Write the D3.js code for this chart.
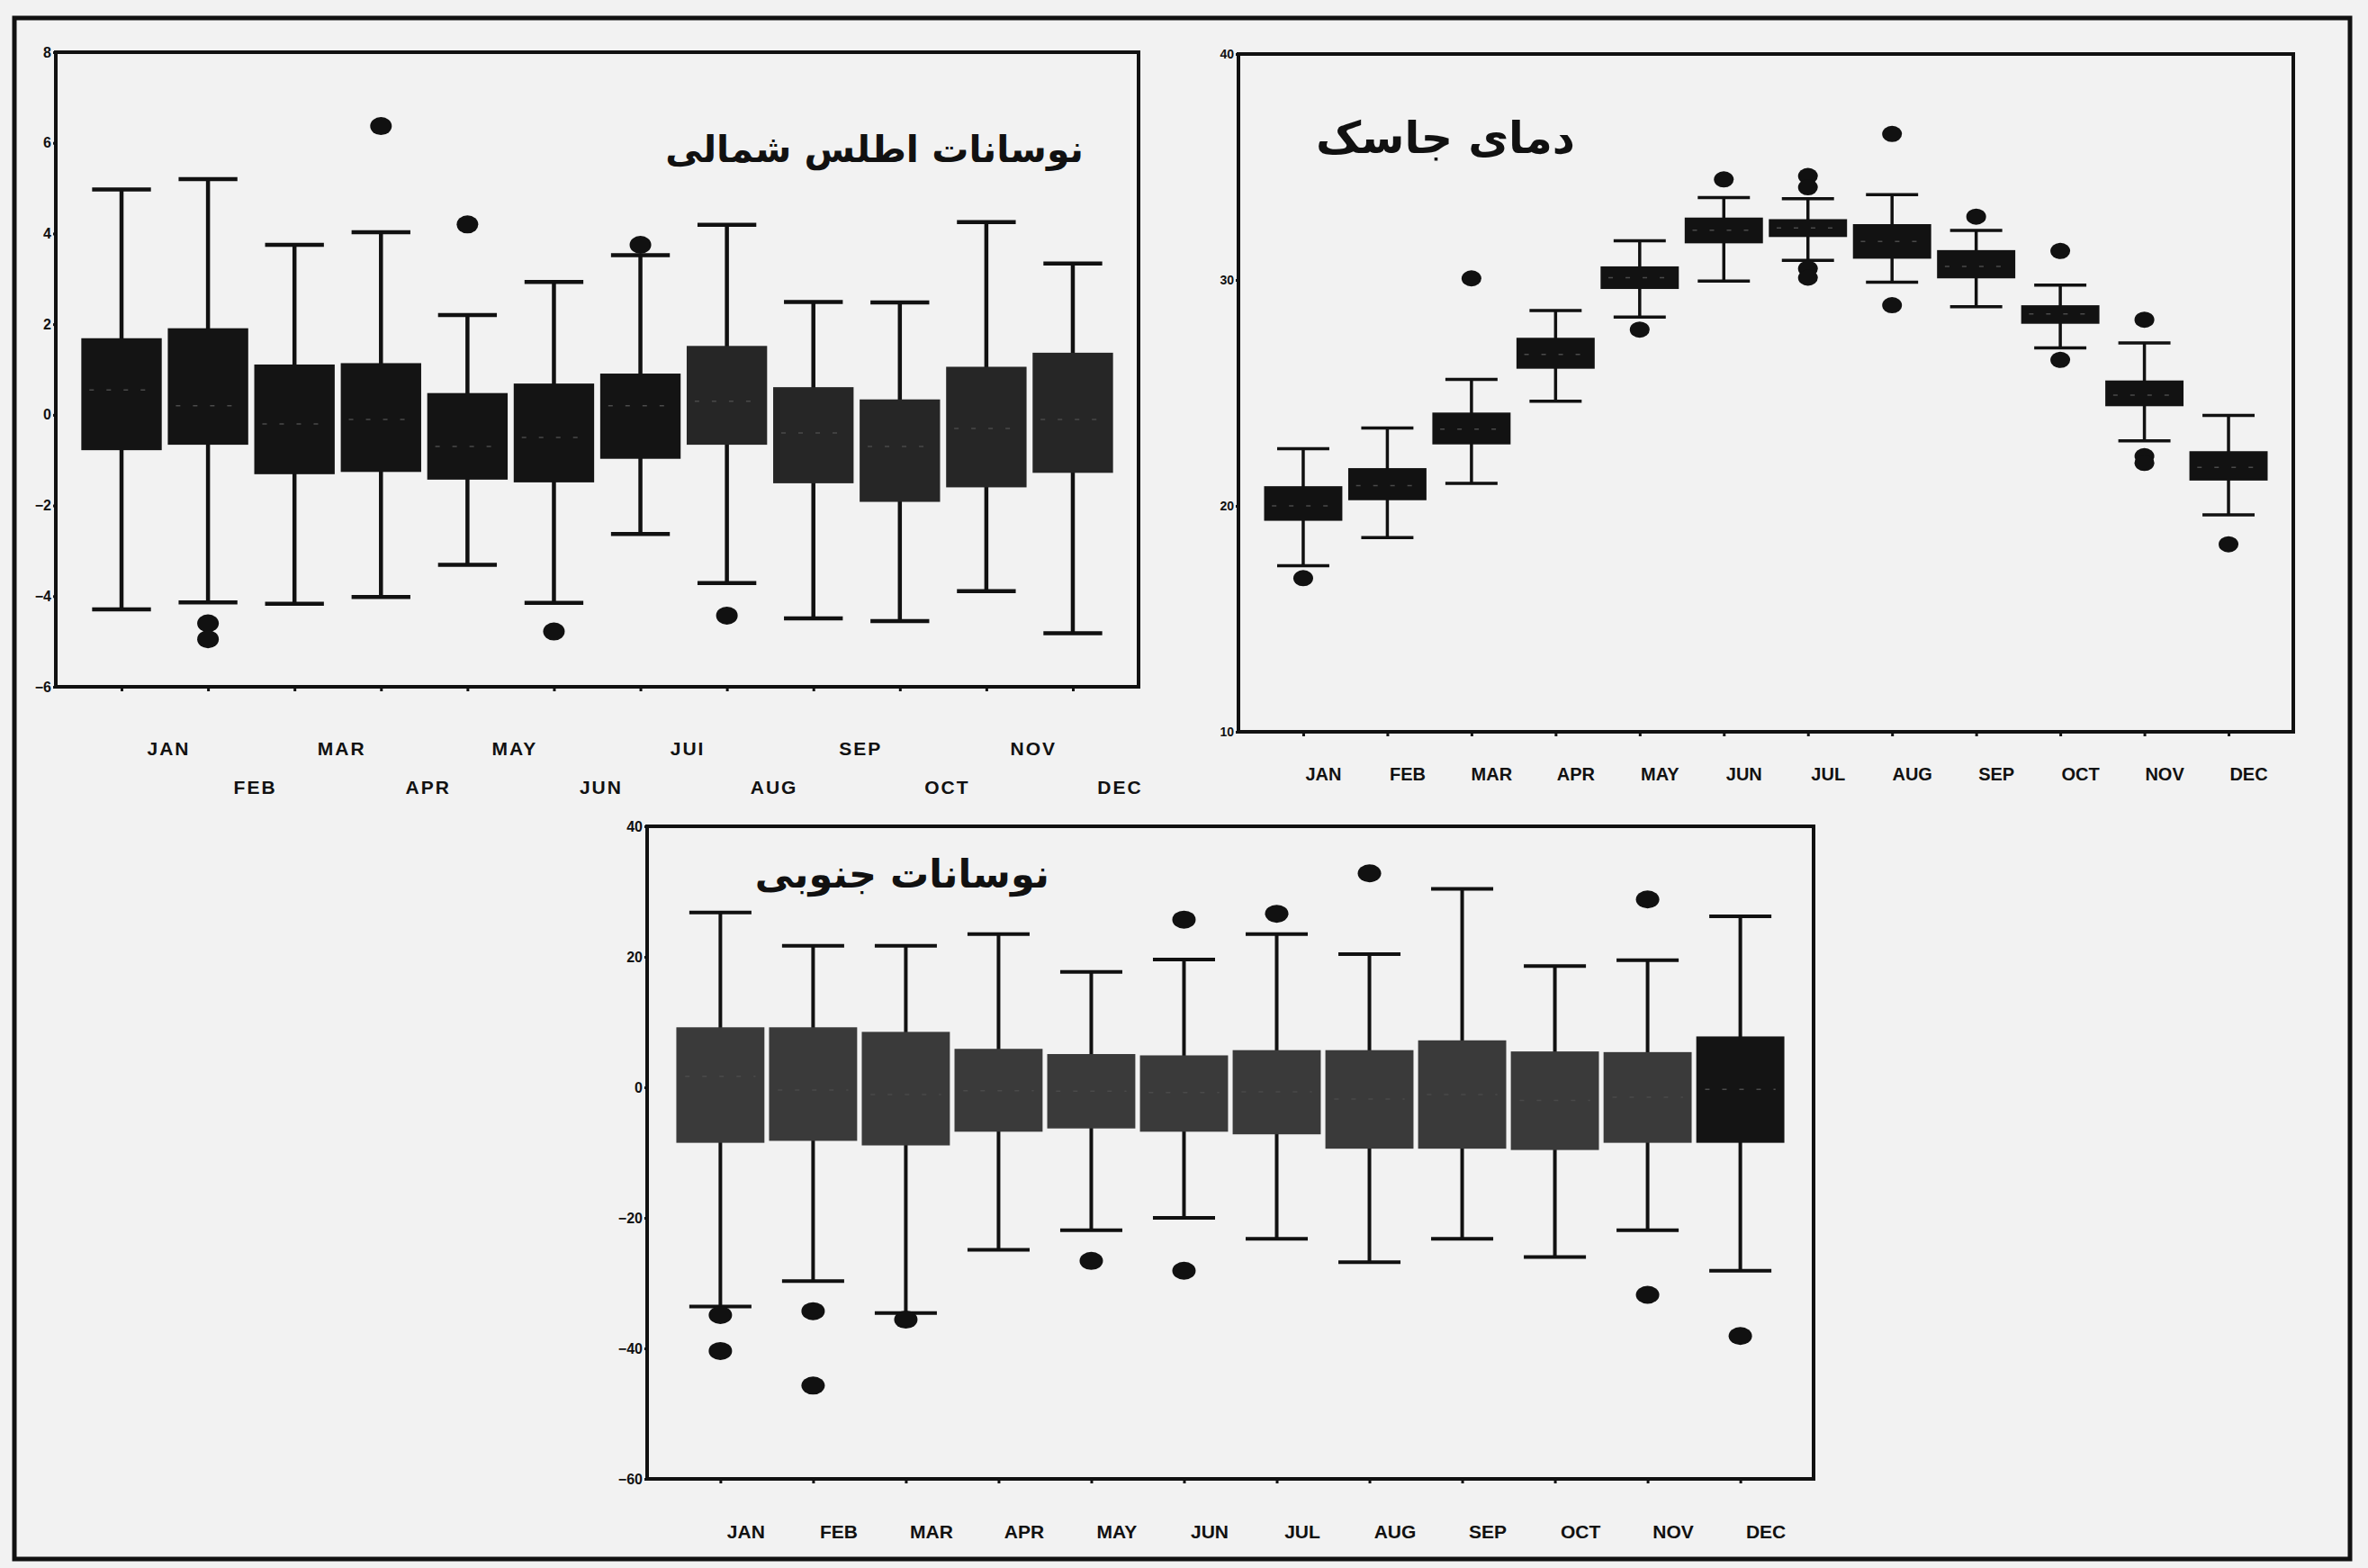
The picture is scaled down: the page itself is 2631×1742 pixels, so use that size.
<!DOCTYPE html>
<html>
<head>
<meta charset="utf-8">
<script src="https://cdn.jsdelivr.net/npm/d3@7/dist/d3.min.js"></script>
<style>
    body { margin: 0; background: #f2f2f2; }
    .axis path { display: none; }
    .axis line { stroke: #111; stroke-width: 3; }
    .axis text { font-family: "Liberation Sans", Arial, sans-serif; font-weight: bold; fill: #111; }
    .title { font-family: "DejaVu Sans", sans-serif; font-weight: bold; fill: #111; }
</style>
</head>
<body>
<div id="figure"></div>
<script>

// months on the x axis (panel 1 has the typo "JUI" in the print)
var months = ["JAN", "FEB", "MAR", "APR", "MAY", "JUN", "JUL", "AUG", "SEP", "OCT", "NOV", "DEC"];
var naoLabels = ["JAN", "FEB", "MAR", "APR", "MAY", "JUN", "JUI", "AUG", "SEP", "OCT", "NOV", "DEC"];

// North Atlantic oscillation
var naoTicks = [-6, -4, -2, 0, 2, 4, 6, 8];
var naoLow = [-4.29, -4.14, -4.17, -4.02, -3.31, -4.15, -2.63, -3.71, -4.49, -4.55, -3.89, -4.82];
var naoQ1 = [-0.78, -0.66, -1.31, -1.26, -1.43, -1.49, -0.97, -0.66, -1.51, -1.92, -1.6, -1.28];
var naoMed = [0.55, 0.2, -0.2, -0.1, -0.7, -0.5, 0.2, 0.3, -0.4, -0.7, -0.3, -0.1];
var naoQ3 = [1.69, 1.91, 1.11, 1.14, 0.48, 0.69, 0.91, 1.52, 0.61, 0.34, 1.06, 1.37];
var naoHigh = [4.97, 5.2, 3.75, 4.03, 2.2, 2.93, 3.52, 4.19, 2.49, 2.48, 4.25, 3.34];
var naoOutliers = [[], [-4.6, -4.95], [], [6.37], [4.2], [-4.78], [3.75], [-4.43], [], [], [], []];

// Jask temperature
var jaskTicks = [10, 20, 30, 40];
var jaskLow = [17.35, 18.6, 21.0, 24.63, 28.36, 29.95, 30.87, 29.9, 28.81, 26.99, 22.88, 19.6];
var jaskQ1 = [19.34, 20.25, 22.72, 26.07, 29.6, 31.62, 31.9, 30.94, 30.07, 28.06, 24.41, 21.12];
var jaskMed = [20.0, 20.9, 23.4, 26.7, 30.1, 32.2, 32.3, 31.7, 30.6, 28.5, 24.9, 21.7];
var jaskQ3 = [20.87, 21.67, 24.13, 27.44, 30.6, 32.76, 32.69, 32.47, 31.32, 28.88, 25.55, 22.42];
var jaskHigh = [22.53, 23.45, 25.6, 28.65, 31.73, 33.65, 33.6, 33.77, 32.19, 29.77, 27.21, 24.0];
var jaskOutliers = [[16.8], [], [30.07], [], [27.8], [34.45], [34.6, 34.1, 30.5, 30.1], [36.46, 28.88], [32.8], [31.28, 26.46], [28.24, 22.2, 21.9], [18.3]];

// Southern oscillation
var soTicks = [-60, -40, -20, 0, 20, 40];
var soLow = [-33.6, -29.7, -34.6, -24.9, -21.9, -20.0, -23.2, -26.8, -23.2, -26.0, -21.9, -28.1];
var soQ1 = [-8.5, -8.2, -8.9, -6.8, -6.3, -6.8, -7.2, -9.4, -9.4, -9.6, -8.5, -8.5];
var soMed = [1.7, -0.4, -1.1, -0.5, -0.6, -0.8, -0.7, -1.8, -1.1, -2.0, -1.5, -0.3];
var soQ3 = [9.2, 9.2, 8.5, 5.9, 5.1, 4.9, 5.7, 5.7, 7.2, 5.5, 5.4, 7.8];
var soHigh = [26.8, 21.7, 21.7, 23.5, 17.7, 19.6, 23.5, 20.4, 30.4, 18.6, 19.5, 26.2];
var soOutliers = [[-34.9, -40.4], [-34.3, -45.7], [-35.6], [], [-26.6], [25.7, -28.1], [26.6], [32.8], [], [], [28.8, -31.8], [-38.1]];


var W = 2631, H = 1742;

var svg = d3.select("#figure").append("svg")
    .attr("width", W)
    .attr("height", H);

svg.append("rect")
    .attr("width", W)
    .attr("height", H)
    .attr("fill", "#f2f2f2");

// outer frame of the scanned figure
svg.append("rect")
    .attr("x", 16).attr("y", 20)
    .attr("width", 2595).attr("height", 1712)
    .attr("fill", "none")
    .attr("stroke", "#111")
    .attr("stroke-width", 5);


/*
 * BoxPlot - one panel of monthly box plots
 */
BoxPlot = function(_svg, _config){
    this.svg = _svg;
    this.config = _config;
    this.initVis();
}

BoxPlot.prototype.initVis = function(){
    var vis = this;
    var c = vis.config;

    vis.g = vis.svg.append("g");

    vis.x = d3.scalePoint()
        .domain(months)
        .range([c.left, c.right])
        .padding(c.padding);

    vis.y = d3.scaleLinear()
        .domain(c.domain)
        .range([c.bottom, c.top]);

    vis.step = vis.x.step();

    // plot frame
    vis.g.append("rect")
        .attr("x", c.left).attr("y", c.top)
        .attr("width", c.right - c.left)
        .attr("height", c.bottom - c.top)
        .attr("fill", "none")
        .attr("stroke", "#111")
        .attr("stroke-width", 4);

    vis.wrangleData();
}

BoxPlot.prototype.wrangleData = function(){
    var vis = this;
    var c = vis.config;

    vis.displayData = months.map(function(m, i){
        return {month: m, index: i, low: c.low[i], q1: c.q1[i], med: c.med[i],
                q3: c.q3[i], high: c.high[i], outliers: c.outliers[i]};
    });

    vis.updateVis();
}

BoxPlot.prototype.updateVis = function(){
    var vis = this;
    var c = vis.config;
    var bw = vis.step * c.boxWidth;
    var cw = vis.step * c.capWidth;

    var boxes = vis.g.selectAll(".box")
        .data(vis.displayData)
        .enter().append("g")
        .attr("class", "box");

    // whisker stem
    boxes.append("line")
        .attr("x1", function(d) { return vis.x(d.month); })
        .attr("x2", function(d) { return vis.x(d.month); })
        .attr("y1", function(d) { return vis.y(d.low); })
        .attr("y2", function(d) { return vis.y(d.high); })
        .attr("stroke", "#111")
        .attr("stroke-width", c.lineWidth);

    // caps
    boxes.selectAll(".cap")
        .data(function(d) { return [{m: d.month, v: d.low}, {m: d.month, v: d.high}]; })
        .enter().append("line")
        .attr("class", "cap")
        .attr("x1", function(d) { return vis.x(d.m) - cw / 2; })
        .attr("x2", function(d) { return vis.x(d.m) + cw / 2; })
        .attr("y1", function(d) { return vis.y(d.v); })
        .attr("y2", function(d) { return vis.y(d.v); })
        .attr("stroke", "#111")
        .attr("stroke-width", c.lineWidth);

    // box
    boxes.append("rect")
        .attr("x", function(d) { return vis.x(d.month) - bw / 2; })
        .attr("y", function(d) { return vis.y(d.q3); })
        .attr("width", bw)
        .attr("height", function(d) { return vis.y(d.q1) - vis.y(d.q3); })
        .attr("fill", function(d) { return c.fill(d.index); });

    // median (barely visible in the print)
    boxes.append("line")
        .attr("x1", function(d) { return vis.x(d.month) - bw * 0.4; })
        .attr("x2", function(d) { return vis.x(d.month) + bw * 0.4; })
        .attr("y1", function(d) { return vis.y(d.med); })
        .attr("y2", function(d) { return vis.y(d.med); })
        .attr("stroke", "#4a4a4a")
        .attr("stroke-width", 1.5)
        .attr("stroke-dasharray", "5,14");

    // outliers
    boxes.selectAll(".outlier")
        .data(function(d) { return d.outliers.map(function(v){ return {m: d.month, v: v}; }); })
        .enter().append("ellipse")
        .attr("class", "outlier")
        .attr("cx", function(d) { return vis.x(d.m); })
        .attr("cy", function(d) { return vis.y(d.v); })
        .attr("rx", c.dotRx)
        .attr("ry", c.dotRy)
        .attr("fill", "#111");

    // axes
    vis.yAxis = d3.axisLeft(vis.y)
        .tickValues(c.yTicks)
        .tickSize(3)
        .tickPadding(2);

    vis.g.append("g")
        .attr("class", "y-axis axis")
        .attr("transform", "translate(" + c.left + ",0)")
        .call(vis.yAxis)
        .selectAll("text")
        .style("font-size", c.yFont + "px");

    vis.xAxis = d3.axisBottom(vis.x)
        .tickSize(5)
        .tickFormat(function(d, i) { return c.labels[i]; });

    vis.g.append("g")
        .attr("class", "x-axis axis")
        .attr("transform", "translate(0," + c.bottom + ")")
        .call(vis.xAxis)
        .selectAll("text")
        .attr("dx", c.labelShift)
        .attr("dy", "0.35em")
        .attr("y", function(d, i) { return (c.stagger && i % 2 === 1) ? c.row2 : c.row1; })
        .style("font-size", c.xFont + "px")
        .style("letter-spacing", c.xSpacing + "px");

    // panel title (Persian)
    vis.g.append("text")
        .attr("class", "title")
        .attr("x", c.titleX)
        .attr("y", c.titleY)
        .attr("text-anchor", "end")
        .style("font-size", c.titleSize + "px")
        .text(c.title);
}


var nao = new BoxPlot(svg, {
    left: 62, right: 1265, top: 58, bottom: 763, padding: 0.76,
    domain: [-6, 8], yTicks: naoTicks, yFont: 16,
    low: naoLow, q1: naoQ1, med: naoMed, q3: naoQ3, high: naoHigh, outliers: naoOutliers,
    labels: naoLabels, stagger: true, row1: 69, row2: 112, labelShift: 52, xFont: 21, xSpacing: 2,
    boxWidth: 0.93, capWidth: 0.68, lineWidth: 4.5, dotRx: 12, dotRy: 10,
    fill: function(i) { return i < 7 ? "#141414" : "#262626"; },
    title: "نوسانات اطلس شمالی", titleX: 1204, titleY: 180, titleSize: 41
});

var jask = new BoxPlot(svg, {
    left: 1376, right: 2548, top: 60, bottom: 813, padding: 0.77,
    domain: [10, 40], yTicks: jaskTicks, yFont: 14,
    low: jaskLow, q1: jaskQ1, med: jaskMed, q3: jaskQ3, high: jaskHigh, outliers: jaskOutliers,
    labels: months, stagger: false, row1: 47, row2: 47, labelShift: 22, xFont: 20, xSpacing: 0,
    boxWidth: 0.93, capWidth: 0.62, lineWidth: 3.5, dotRx: 11, dotRy: 9,
    fill: function(i) { return "#121212"; },
    title: "دمای جاسک", titleX: 1750, titleY: 170, titleSize: 49
});

var so = new BoxPlot(svg, {
    left: 719, right: 2015, top: 918, bottom: 1643, padding: 0.79,
    domain: [-60, 40], yTicks: soTicks, yFont: 16,
    low: soLow, q1: soQ1, med: soMed, q3: soQ3, high: soHigh, outliers: soOutliers,
    labels: months, stagger: false, row1: 59, row2: 59, labelShift: 28, xFont: 21, xSpacing: 0,
    boxWidth: 0.95, capWidth: 0.67, lineWidth: 4, dotRx: 13, dotRy: 10,
    fill: function(i) { return i === 11 ? "#141414" : "#3a3a3a"; },
    title: "نوسانات جنوبی", titleX: 1166, titleY: 986, titleSize: 43
});

</script>
</body>
</html>
